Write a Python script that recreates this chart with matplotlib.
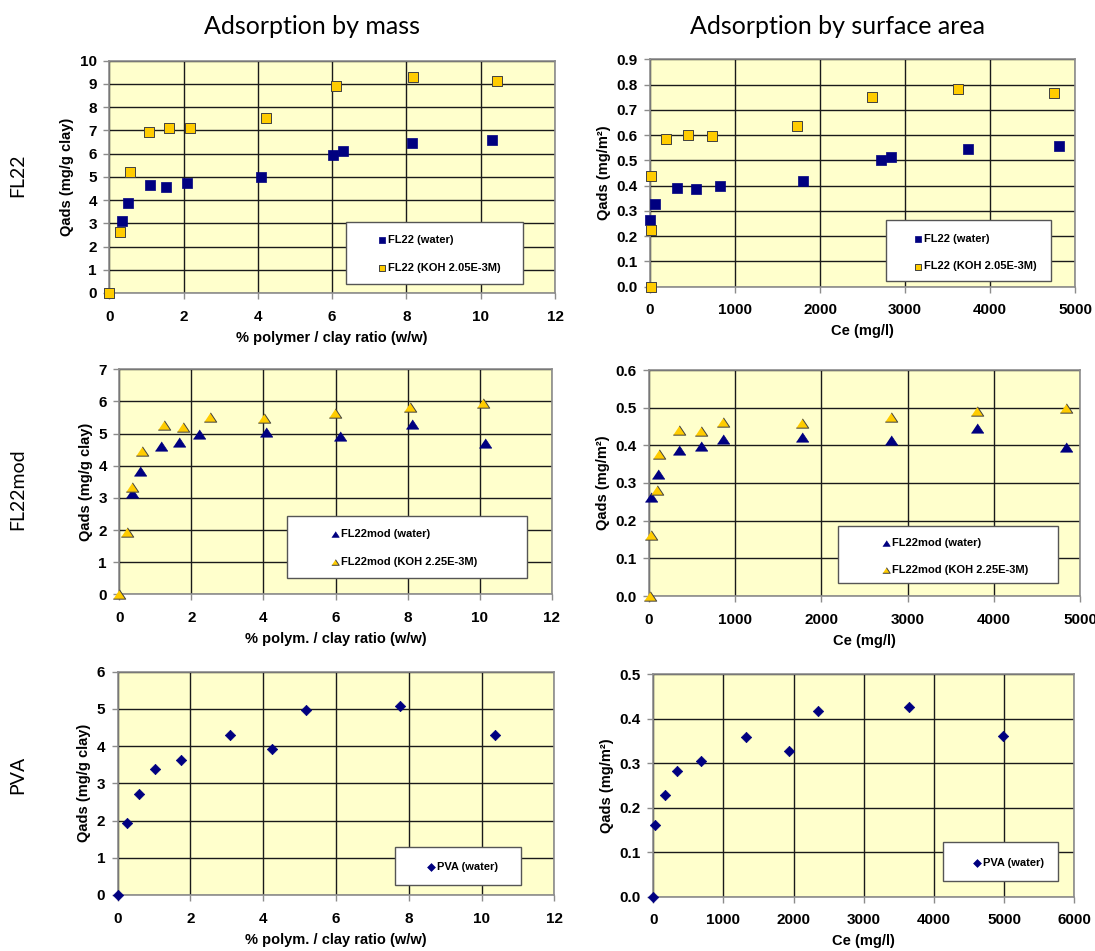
import matplotlib
matplotlib.use("Agg")
import matplotlib.pyplot as plt
from matplotlib.patches import Rectangle
import numpy as np

# ---- FL22, adsorption by mass ----
fl22_mass_water_x = [0.33, 0.51, 1.09, 1.54, 2.10, 4.09, 6.03, 6.30, 8.14, 10.31]
fl22_mass_water_y = [3.11, 3.88, 4.66, 4.58, 4.74, 4.99, 5.93, 6.10, 6.46, 6.59]
fl22_mass_koh_x = [0.0, 0.29, 0.57, 1.06, 1.61, 2.17, 4.21, 6.11, 8.19, 10.43]
fl22_mass_koh_y = [0.0, 2.62, 5.20, 6.92, 7.12, 7.09, 7.55, 8.93, 9.30, 9.13]

# ---- FL22, adsorption by surface area ----
fl22_area_water_x = [4, 63, 314, 541, 824, 1804, 2722, 2839, 3741, 4812]
fl22_area_water_y = [0.263, 0.327, 0.392, 0.387, 0.400, 0.420, 0.500, 0.513, 0.544, 0.555]
fl22_area_koh_x = [8, 8, 16, 184, 443, 733, 1729, 2612, 3620, 4753]
fl22_area_koh_y = [0.0, 0.223, 0.439, 0.583, 0.599, 0.596, 0.635, 0.749, 0.781, 0.768]

# ---- FL22mod, adsorption by mass ----
mod_mass_water_x = [0.34, 0.57, 1.17, 1.66, 2.22, 4.06, 6.12, 8.13, 10.15]
mod_mass_water_y = [3.14, 3.85, 4.62, 4.74, 4.99, 5.05, 4.94, 5.31, 4.71]
mod_mass_koh_x = [0.0, 0.21, 0.36, 0.63, 1.23, 1.78, 2.51, 4.01, 5.99, 8.08, 10.08]
mod_mass_koh_y = [0.0, 1.95, 3.35, 4.47, 5.26, 5.22, 5.51, 5.48, 5.65, 5.83, 5.94]

# ---- FL22mod, adsorption by surface area ----
mod_area_water_x = [19, 100, 352, 603, 858, 1779, 2811, 3801, 4842]
mod_area_water_y = [0.264, 0.324, 0.388, 0.398, 0.418, 0.423, 0.414, 0.446, 0.396]
mod_area_koh_x = [8, 19, 97, 112, 352, 603, 858, 1779, 2811, 3801, 4842]
mod_area_koh_y = [0.0, 0.162, 0.281, 0.376, 0.442, 0.438, 0.463, 0.460, 0.475, 0.490, 0.499]

# ---- PVA ----
pva_mass_x = [0.0, 0.25, 0.59, 1.02, 1.73, 3.08, 4.24, 5.18, 7.77, 10.36]
pva_mass_y = [0.0, 1.93, 2.71, 3.38, 3.63, 4.29, 3.92, 4.97, 5.07, 4.30]
pva_area_x = [0, 28, 162, 342, 684, 1325, 1933, 2347, 3644, 4979]
pva_area_y = [0.0, 0.162, 0.228, 0.283, 0.304, 0.360, 0.328, 0.417, 0.426, 0.361]

col_titles = ["Adsorption by mass", "Adsorption by surface area"]
row_titles = ["FL22", "FL22mod", "PVA"]

NAVY = "#000080"
GOLD = "#FFCC00"
BG = "#FFFFCC"
TRI = [(-1, -0.75), (1, -0.75), (0, 0.75)]

W, H = 1095, 951
fig = plt.figure(figsize=(W / 100, H / 100), dpi=100)
plt.rcParams["font.family"] = "Liberation Sans"


def make_axes(l, t, r, b):
    return fig.add_axes([l / W, (H - b) / H, (r - l) / W, (b - t) / H])


def style(ax, xmax, xstep, ymax, ystep, xlabel, ylabel, yfmt):
    ax.set_facecolor(BG)
    ax.set_xlim(0, xmax)
    ax.set_ylim(0, ymax)
    ax.set_xticks(np.arange(0, xmax + xstep / 2, xstep))
    yt = np.arange(0, ymax + ystep / 2, ystep)
    ax.set_yticks(yt)
    ax.set_yticklabels([yfmt.format(v) for v in yt])
    ax.grid(True, color="#1a1a1a", linewidth=1.0)
    ax.set_axisbelow(True)
    for s in ax.spines.values():
        s.set_color("#8c8c8c")
        s.set_linewidth(1.2)
    ax.tick_params(direction="out", length=4, width=1, color="#8c8c8c",
                   labelsize=11)
    ax.tick_params(axis="x", pad=8)
    ax.tick_params(axis="y", pad=5)
    for lab in ax.get_xticklabels() + ax.get_yticklabels():
        lab.set_fontweight("bold")
    ax.set_xlabel(xlabel, fontsize=10.5, fontweight="bold", labelpad=5)
    ax.set_ylabel(ylabel, fontsize=10.5, fontweight="bold", labelpad=4)


def legend_box(ax, x0, y0, w, h, anchor, scale=0.75):
    ax.add_patch(Rectangle((x0, y0), w, h, transform=ax.transAxes,
                           facecolor="white", edgecolor="#555555",
                           linewidth=1.0, zorder=5))
    leg = ax.legend(loc="center left", bbox_to_anchor=anchor, frameon=False,
                    borderpad=0, handlelength=0.5, handletextpad=0.3,
                    labelspacing=1.6, markerscale=scale,
                    prop={"size": 8, "weight": "bold"})
    leg.set_zorder(6)


sq_water = dict(marker="s", s=42, color=NAVY, edgecolors=NAVY, linewidths=0.5,
                zorder=3, clip_on=False)
sq_koh = dict(marker="s", s=42, color=GOLD, edgecolors="#404040", linewidths=0.7,
              zorder=3, clip_on=False)
tr_water = dict(marker=TRI, s=80, color=NAVY, edgecolors=NAVY, linewidths=0.5,
                zorder=3, clip_on=False)
tr_koh = dict(marker=TRI, s=80, color=GOLD, edgecolors="#404040", linewidths=0.7,
              zorder=3, clip_on=False)
dm_water = dict(marker="D", s=28, color=NAVY, edgecolors=NAVY, linewidths=0.5,
                zorder=3, clip_on=False)

# FL22
ax1 = make_axes(109.3, 60.7, 555, 293)
ax1.scatter(fl22_mass_water_x, fl22_mass_water_y, label="FL22 (water)", **sq_water)
ax1.scatter(fl22_mass_koh_x, fl22_mass_koh_y, label="FL22 (KOH 2.05E-3M)", **sq_koh)
style(ax1, 12, 2, 10, 1, "% polymer / clay ratio (w/w)", "Qads (mg/g clay)", "{:.0f}")
legend_box(ax1, 0.530, 0.037, 0.398, 0.269, (0.593, 0.169))

ax2 = make_axes(650, 59.3, 1075, 286.7)
ax2.scatter(fl22_area_water_x, fl22_area_water_y, label="FL22 (water)", **sq_water)
ax2.scatter(fl22_area_koh_x, fl22_area_koh_y, label="FL22 (KOH 2.05E-3M)", **sq_koh)
style(ax2, 5000, 1000, 0.9, 0.1, "Ce (mg/l)", "Qads (mg/m²)", "{:.1f}")
legend_box(ax2, 0.555, 0.025, 0.389, 0.268, (0.610, 0.150))

# FL22mod
ax3 = make_axes(119.3, 369.3, 551.7, 594.3)
ax3.scatter(mod_mass_water_x, mod_mass_water_y, label="FL22mod (water)", **tr_water)
ax3.scatter(mod_mass_koh_x, mod_mass_koh_y, label="FL22mod (KOH 2.25E-3M)", **tr_koh)
style(ax3, 12, 2, 7, 1, "% polym. / clay ratio (w/w)", "Qads (mg/g clay)", "{:.0f}")
legend_box(ax3, 0.387, 0.074, 0.555, 0.276, (0.480, 0.206), scale=0.6)

ax4 = make_axes(649, 370, 1080, 596)
ax4.scatter(mod_area_water_x, mod_area_water_y, label="FL22mod (water)", **tr_water)
ax4.scatter(mod_area_koh_x, mod_area_koh_y, label="FL22mod (KOH 2.25E-3M)", **tr_koh)
style(ax4, 5000, 1000, 0.6, 0.1, "Ce (mg/l)", "Qads (mg/m²)", "{:.1f}")
legend_box(ax4, 0.438, 0.056, 0.510, 0.255, (0.531, 0.175), scale=0.6)

# PVA
ax5 = make_axes(117.7, 671.7, 554.3, 895)
ax5.scatter(pva_mass_x, pva_mass_y, label="PVA (water)", **dm_water)
style(ax5, 12, 2, 6, 1, "% polym. / clay ratio (w/w)", "Qads (mg/g clay)", "{:.0f}")
legend_box(ax5, 0.635, 0.046, 0.289, 0.167, (0.698, 0.124))

ax6 = make_axes(653.3, 674.3, 1074.3, 896.7)
ax6.scatter(pva_area_x, pva_area_y, label="PVA (water)", **dm_water)
style(ax6, 6000, 1000, 0.5, 0.1, "Ce (mg/l)", "Qads (mg/m²)", "{:.1f}")
legend_box(ax6, 0.689, 0.071, 0.272, 0.177, (0.748, 0.150))

# column and row headings
fig.text(312 / W, 1 - 27 / H, col_titles[0], family="Lato", fontsize=18,
         ha="center", va="center")
fig.text(837 / W, 1 - 27 / H, col_titles[1], family="Lato", fontsize=18,
         ha="center", va="center")
for name, yc in zip(row_titles, [175, 489, 775]):
    fig.text(18 / W, 1 - yc / H, name, family="Lato", fontsize=14,
             rotation=90, ha="center", va="center")

fig.savefig("out.png", dpi=100)
